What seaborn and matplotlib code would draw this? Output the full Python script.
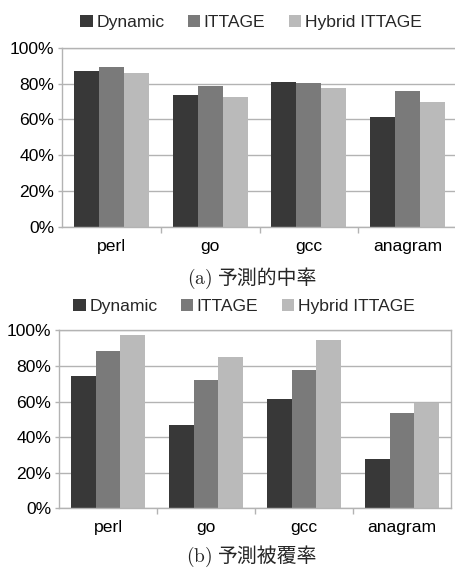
import pandas as pd
import numpy as np
import seaborn as sns
import matplotlib.pyplot as plt

# benchmark data
benchmarks = ['perl', 'go', 'gcc', 'anagram']
predictors = ['Dynamic', 'ITTAGE', 'Hybrid ITTAGE']

# (a) prediction hit rate
hit_dynamic = [0.870, 0.736, 0.808, 0.613]
hit_ittage = [0.892, 0.786, 0.803, 0.758]
hit_hybrid = [0.858, 0.724, 0.775, 0.696]

# (b) prediction coverage
cov_dynamic = [0.743, 0.468, 0.614, 0.277]
cov_ittage = [0.884, 0.721, 0.777, 0.536]
cov_hybrid = [0.974, 0.850, 0.946, 0.592]

captions = ['(a)', '(b)']
caption_texts = ['予測的中率', '予測被覆率']

colors = ['#383838', '#7a7a7a', '#bababa']
gray = '#b3b3b3'

sns.set_style('white')
plt.rcParams['font.family'] = ['Liberation Sans', 'Noto Sans CJK JP']
plt.rcParams['mathtext.fontset'] = 'cm'


def long_table(d, i, h):
    rows = []
    for name, vals in zip(predictors, [d, i, h]):
        for b, v in zip(benchmarks, vals):
            rows.append({'benchmark': b, 'predictor': name, 'value': v})
    return pd.DataFrame(rows)


df_hit = long_table(hit_dynamic, hit_ittage, hit_hybrid)
df_cov = long_table(cov_dynamic, cov_ittage, cov_hybrid)

W, H = 455, 568
fig = plt.figure(figsize=(W / 100, H / 100), dpi=100)

# axes boxes in pixels: left, top, right, bottom
boxes = [(62, 47.7, 457, 226.7), (59, 330.3, 451, 508.3)]
legend_centers = [(251, 22.5), (244, 306.5)]
caption_base = [284, 562]
fs = 12.6

for k, df in enumerate([df_hit, df_cov]):
    l, t, r, b = boxes[k]
    ax = fig.add_axes([l / W, 1 - b / H, (r - l) / W, (b - t) / H])
    sns.barplot(data=df, x='benchmark', y='value', hue='predictor',
                palette=colors, width=0.76, saturation=1, linewidth=0,
                ax=ax)
    ax.set_ylim(0, 1)
    ax.set_xlim(-0.5, 3.5)
    ax.set_yticks(np.arange(0, 1.01, 0.2))
    ax.set_yticklabels(['%d%%' % round(v * 100) for v in np.arange(0, 1.01, 0.2)])
    ax.set_xlabel('')
    ax.set_ylabel('')
    ax.yaxis.grid(True, color=gray, linewidth=1)
    ax.set_axisbelow(True)
    for s in ax.spines.values():
        s.set_color(gray)
        s.set_linewidth(1)
    ax.tick_params(axis='y', left=True, length=3, width=1, color=gray,
                   pad=2.5, labelsize=fs, labelcolor='black')
    ax.tick_params(axis='x', which='major', length=0, pad=8.5,
                   labelsize=fs, labelcolor='black')
    ax.set_xticks([0.5, 1.5, 2.5], minor=True)
    ax.tick_params(axis='x', which='minor', bottom=True, length=4,
                   width=1, color=gray)

    handles, labels = ax.get_legend_handles_labels()
    ax.get_legend().remove()
    cx, cy = legend_centers[k]
    fig.legend(handles, labels, loc='center', ncol=3, frameon=False,
               bbox_to_anchor=(cx / W, 1 - cy / H), fontsize=fs,
               handlelength=0.7, handleheight=0.7, handletextpad=0.2,
               columnspacing=1.35, borderpad=0, borderaxespad=0)

    yb = 1 - caption_base[k] / H
    fig.text(212 / W, yb, r'$\mathrm{%s}$' % captions[k], ha='right',
             va='baseline', fontsize=14)
    fig.text(218 / W, yb, caption_texts[k], ha='left', va='baseline',
             fontsize=14.3, family=['Noto Sans CJK JP'])

fig.savefig('out.png', dpi=100)
